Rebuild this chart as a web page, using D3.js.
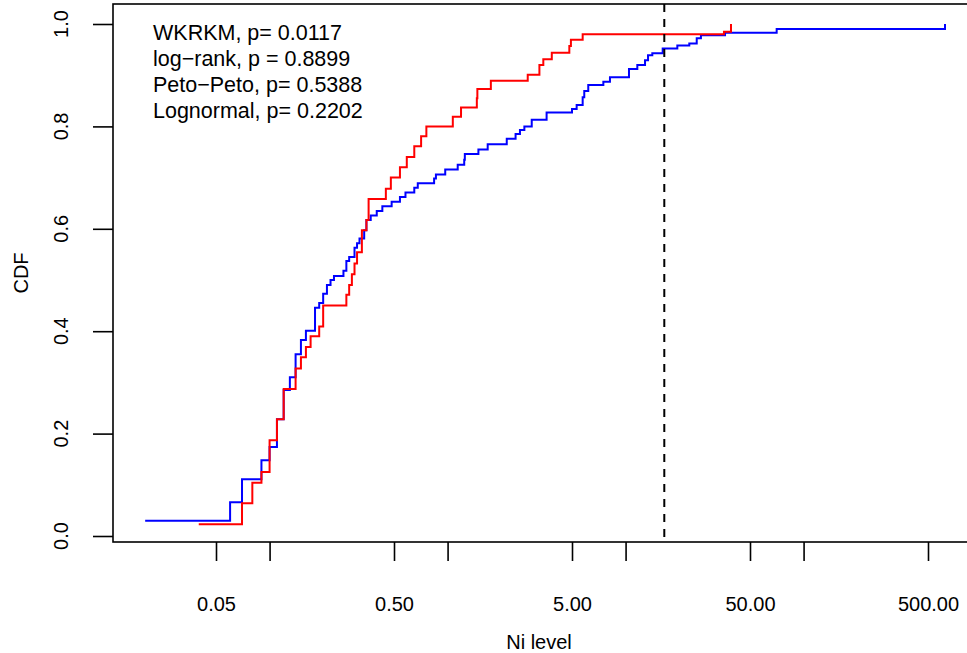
<!DOCTYPE html>
<html>
<head>
<meta charset="utf-8">
<script src="https://cdn.jsdelivr.net/npm/d3@7"></script>
<style>
  body { margin: 0; background: #fff; }
  text { font-family: "Liberation Sans", Arial, sans-serif; fill: #000; }
</style>
</head>
<body>
<script>
// step points of the two CDF curves (Ni level, CDF)
var blueX = [0.02, 0.06, 0.07, 0.09, 0.10, 0.11, 0.12, 0.13, 0.14, 0.15, 0.16, 0.18, 0.19, 0.20, 0.21, 0.22, 0.23, 0.26, 0.27, 0.28, 0.30, 0.31, 0.32, 0.34, 0.35, 0.37, 0.40, 0.43, 0.485, 0.54, 0.58, 0.65, 0.68, 0.84, 0.86, 0.97, 1.14, 1.24, 1.25, 1.49, 1.68, 2.15, 2.41, 2.55, 2.70, 2.97, 3.6, 5.0, 5.31, 5.74, 5.86, 6.17, 7.5, 8.17, 10.45, 11.64, 12.86, 13.37, 14.13, 16.16, 19.53, 22.8, 25.1, 26.5, 36.2, 70.6, 623];
var blueY = [0.030, 0.066, 0.111, 0.148, 0.174, 0.228, 0.285, 0.310, 0.355, 0.383, 0.401, 0.446, 0.455, 0.473, 0.490, 0.500, 0.508, 0.518, 0.537, 0.545, 0.563, 0.572, 0.581, 0.597, 0.617, 0.626, 0.635, 0.644, 0.653, 0.662, 0.671, 0.680, 0.689, 0.698, 0.706, 0.716, 0.725, 0.735, 0.746, 0.755, 0.765, 0.776, 0.785, 0.793, 0.800, 0.813, 0.827, 0.834, 0.842, 0.857, 0.869, 0.881, 0.887, 0.896, 0.912, 0.920, 0.929, 0.939, 0.943, 0.952, 0.958, 0.962, 0.972, 0.978, 0.983, 0.990, 1.0];

var redX = [0.04, 0.07, 0.08, 0.09, 0.10, 0.11, 0.12, 0.14, 0.15, 0.16, 0.17, 0.19, 0.20, 0.27, 0.28, 0.29, 0.30, 0.31, 0.33, 0.35, 0.36, 0.45, 0.48, 0.54, 0.59, 0.65, 0.71, 0.76, 1.07, 1.19, 1.46, 1.47, 1.75, 2.82, 3.28, 3.45, 3.85, 4.83, 4.93, 5.74, 35.7, 39.1];
var redY = [0.023, 0.064, 0.104, 0.125, 0.187, 0.228, 0.287, 0.327, 0.349, 0.369, 0.390, 0.409, 0.450, 0.471, 0.490, 0.511, 0.532, 0.554, 0.597, 0.617, 0.658, 0.678, 0.700, 0.720, 0.740, 0.761, 0.781, 0.800, 0.819, 0.837, 0.855, 0.873, 0.889, 0.901, 0.920, 0.931, 0.944, 0.957, 0.969, 0.980, 0.985, 1.0];

var cutoff = 16.5;

var xTicks = [0.05, 0.1, 0.5, 1, 5, 10, 50, 100, 500];
var xLabels = {0.05: "0.05", 0.5: "0.50", 5: "5.00", 50: "50.00", 500: "500.00"};
var yTicks = [0, 0.2, 0.4, 0.6, 0.8, 1.0];

var legendLines = ["WKRKM, p= 0.0117", "log\u2212rank, p = 0.8899", "Peto\u2212Peto, p= 0.5388", "Lognormal, p= 0.2202"];

window.onload = function() {
    drawChart();
};

function drawChart() {
    var width = 967,
        height = 653;

    //plot region (right edge runs past the window)
    var left = 113, top = 4, bottom = 542, right = 995;

    var svg = d3.select("body")
        .append("svg")
        .attr("width", width)
        .attr("height", height);

    var x = d3.scaleLog()
        .domain([0.05, 500])
        .range([216, 928]);

    var y = d3.scaleLinear()
        .domain([0, 1])
        .range([536, 24]);

    //box
    svg.append("rect")
        .attr("x", left)
        .attr("y", top)
        .attr("width", right - left)
        .attr("height", bottom - top)
        .attr("fill", "none")
        .attr("stroke", "#000")
        .attr("stroke-width", 1.6);

    //x axis
    var xAxis = svg.append("g")
        .attr("transform", "translate(0," + bottom + ")")
        .call(d3.axisBottom(x)
            .tickValues(xTicks)
            .tickSize(19)
            .tickPadding(50)
            .tickFormat(function(d) { return xLabels[d] || ""; }));
    xAxis.select(".domain").remove();
    xAxis.selectAll(".tick line").attr("stroke", "#000").attr("stroke-width", 1.6);
    xAxis.selectAll(".tick text")
        .attr("y", 69)
        .attr("dy", null)
        .style("font-size", "20px")
        .style("font-family", "'Liberation Sans', Arial, sans-serif");

    //y axis
    var yAxis = svg.append("g")
        .attr("transform", "translate(" + left + ",0)")
        .call(d3.axisLeft(y)
            .tickValues(yTicks)
            .tickSize(20)
            .tickFormat(""));
    yAxis.select(".domain").remove();
    yAxis.selectAll(".tick line").attr("stroke", "#000").attr("stroke-width", 1.6);

    svg.selectAll(".ylab")
        .data(yTicks)
        .enter()
        .append("text")
        .attr("class", "ylab")
        .attr("transform", function(d) { return "translate(68," + y(d) + ") rotate(-90)"; })
        .attr("text-anchor", "middle")
        .style("font-size", "20px")
        .text(function(d) { return d3.format(".1f")(d); });

    //axis titles
    svg.append("text")
        .attr("x", 539)
        .attr("y", 649)
        .attr("text-anchor", "middle")
        .style("font-size", "20px")
        .text("Ni level");

    svg.append("text")
        .attr("transform", "translate(28," + ((top + bottom) / 2) + ") rotate(-90)")
        .attr("text-anchor", "middle")
        .style("font-size", "20px")
        .text("CDF");

    //step lines
    var line = d3.line()
        .x(function(d) { return x(d[0]); })
        .y(function(d) { return y(d[1]); })
        .curve(d3.curveStepAfter);

    svg.append("path")
        .datum(d3.zip(blueX, blueY))
        .attr("fill", "none")
        .attr("stroke", "#0000ff")
        .attr("stroke-width", 2)
        .attr("d", line);

    svg.append("path")
        .datum(d3.zip(redX, redY))
        .attr("fill", "none")
        .attr("stroke", "#ff0000")
        .attr("stroke-width", 2)
        .attr("d", line);

    //cutoff line
    svg.append("line")
        .attr("x1", x(cutoff))
        .attr("x2", x(cutoff))
        .attr("y1", top)
        .attr("y2", bottom)
        .attr("stroke", "#000")
        .attr("stroke-width", 2)
        .attr("stroke-dasharray", "8,7");

    //test results
    svg.selectAll(".legend")
        .data(legendLines)
        .enter()
        .append("text")
        .attr("class", "legend")
        .attr("x", 153)
        .attr("y", function(d, i) { return 39.5 + i * 26.3; })
        .style("font-size", "21.5px")
        .text(function(d) { return d; });
}
</script>
</body>
</html>
